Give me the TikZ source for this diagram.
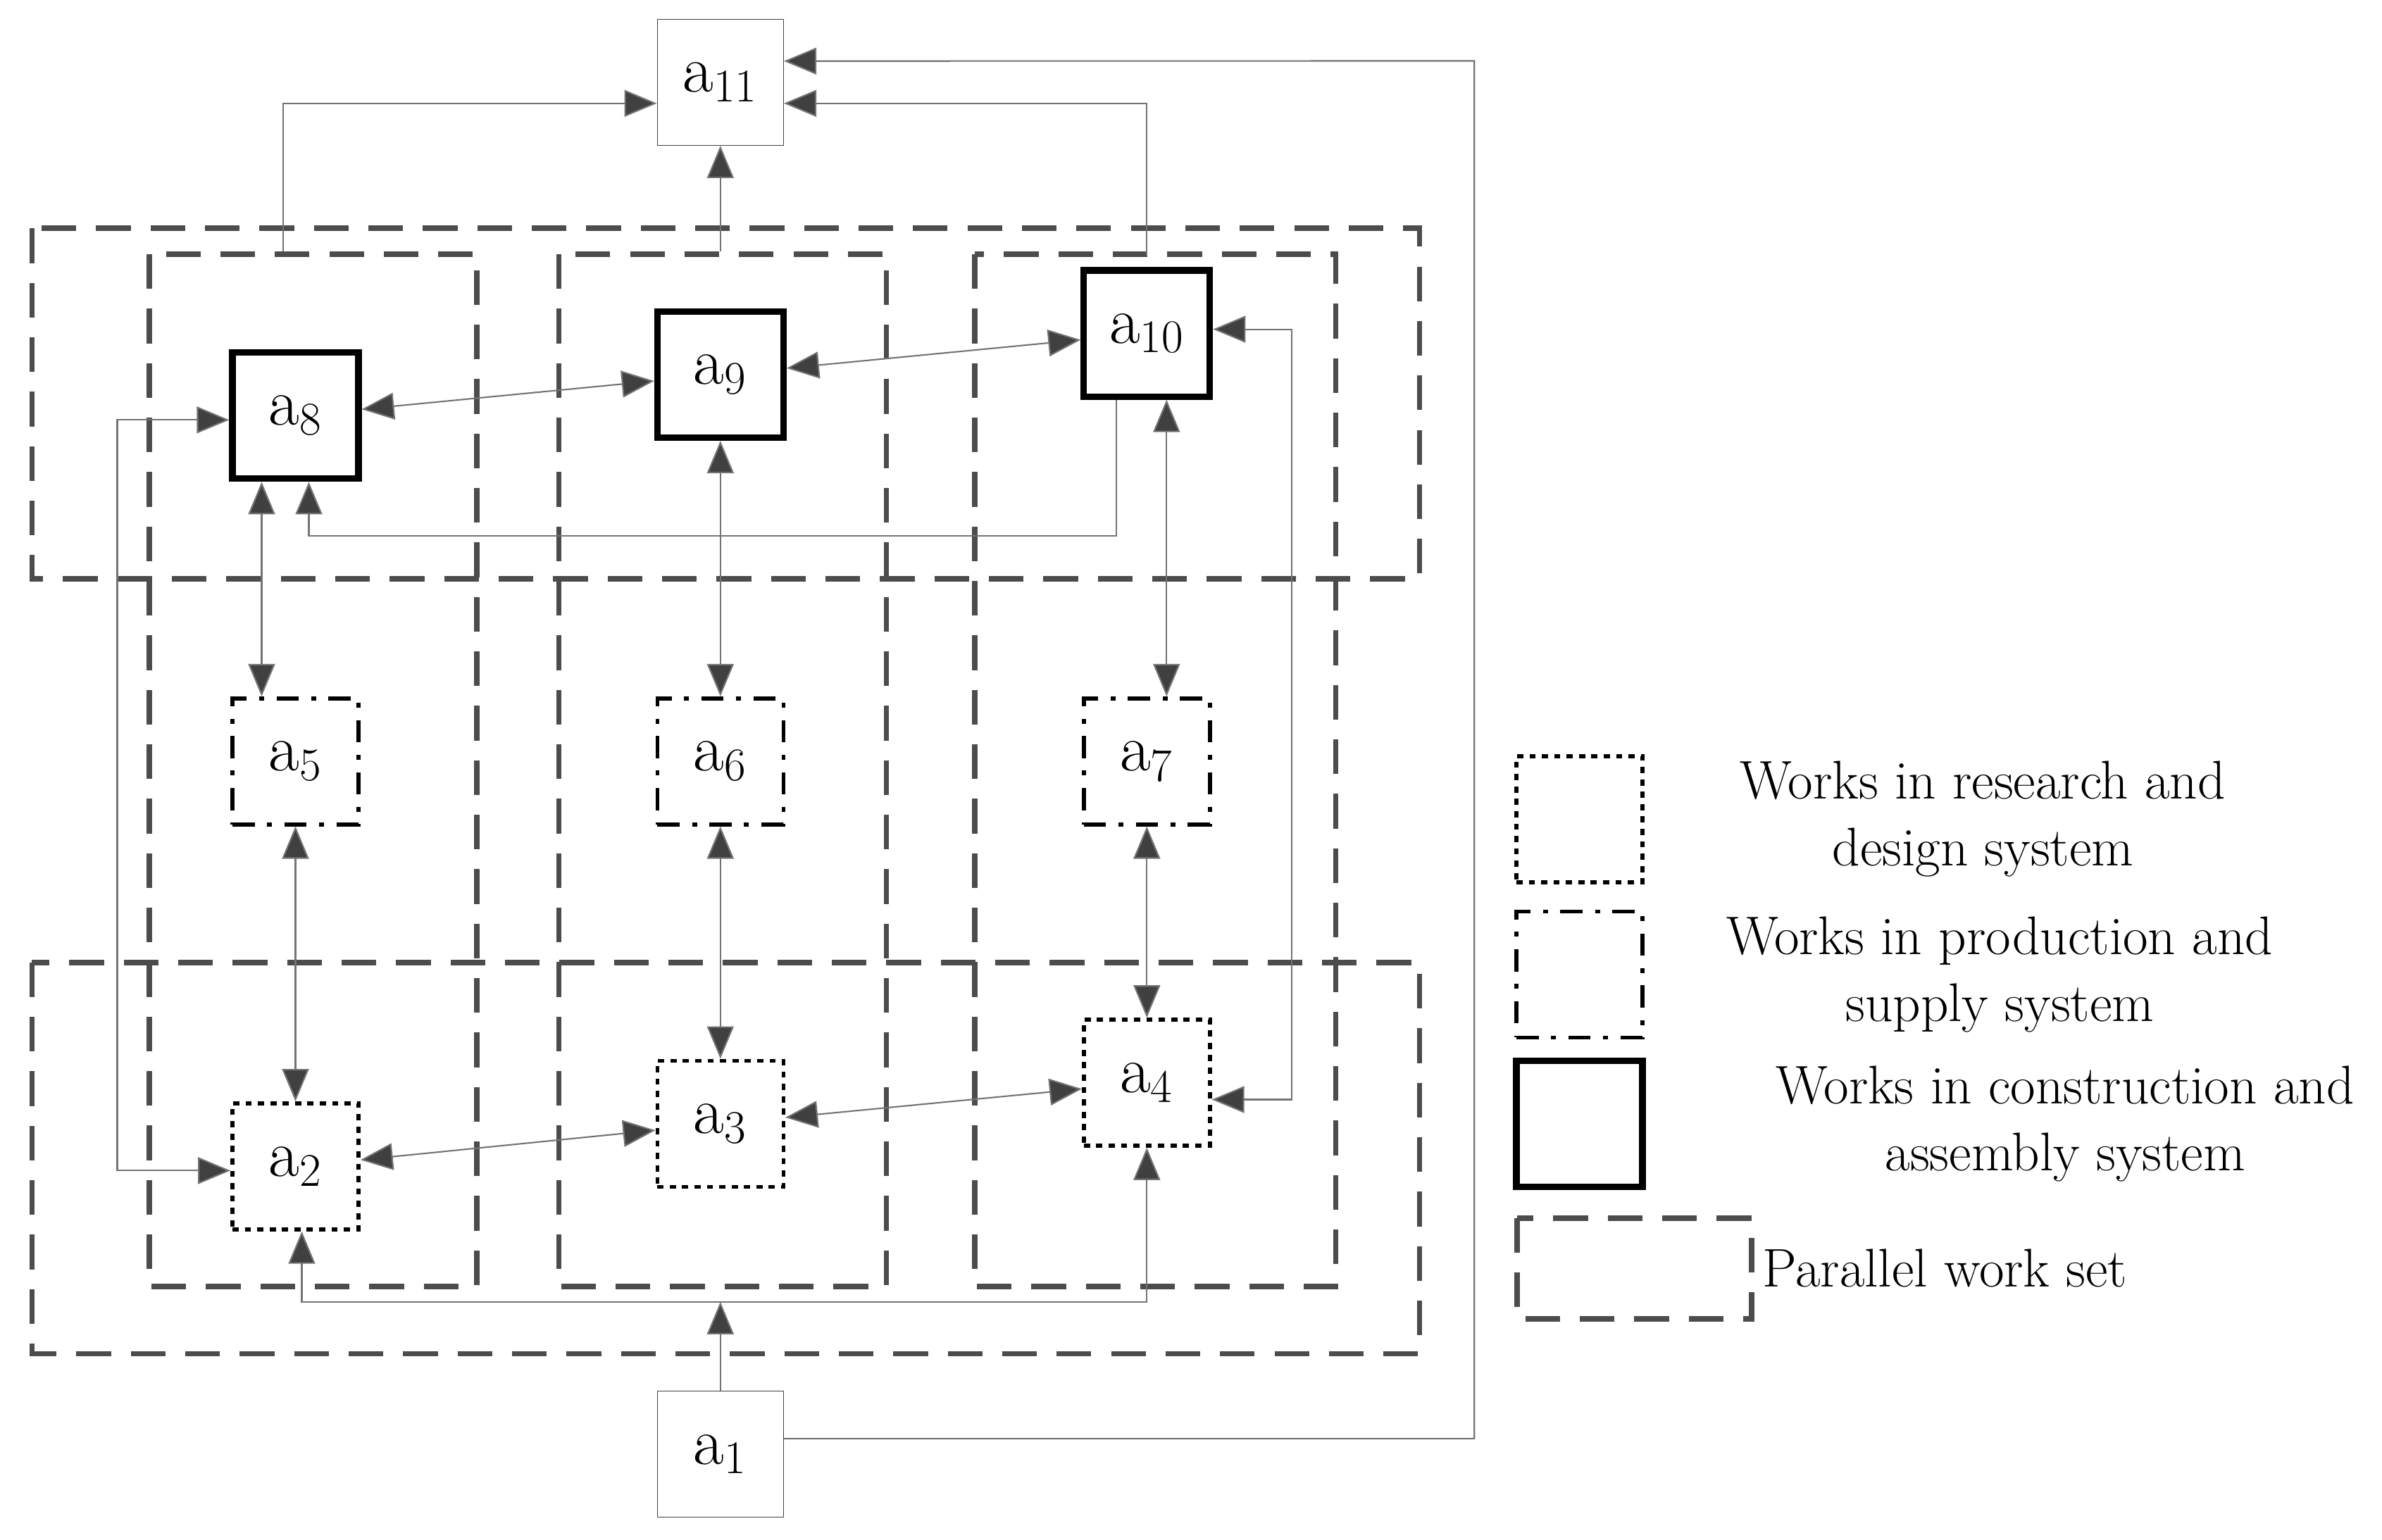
\documentclass[tikz,border=0pt]{standalone}
\usetikzlibrary{arrows.meta,calc}
\begin{document}
\begin{tikzpicture}[x=0.02162cm,y=-0.02162cm,
  font=\fontsize{22}{27}\selectfont,
  box/.style={draw=black!75,minimum size=1.79cm,inner sep=0pt,fill=white,font=\fontsize{27}{30}\selectfont},
  cas/.style={box,line width=2.6pt,draw=black},
  rds/.style={box,line width=1.6pt,draw=black,dash pattern=on 2.5pt off 2.5pt},
  pss/.style={box,line width=1.6pt,draw=black,dash pattern=on 9pt off 5pt on 2pt off 5pt},
  pws/.style={draw=black!70,line width=2.2pt,dash pattern=on 14pt off 8pt},
  ln/.style={draw=black!55,line width=0.6pt},
  tip/.style={-{Triangle[length=0.46cm,width=0.38cm,fill=black!75]}},
  btip/.style={{Triangle[length=0.46cm,width=0.38cm,fill=black!75]}-{Triangle[length=0.46cm,width=0.38cm,fill=black!75]}}]
\useasboundingbox (0,0) rectangle (1564,1011);
% parallel work sets
\draw[pws] (21,150) rectangle (932,380);
\draw[pws] (21,632) rectangle (932,889);
\draw[pws] (98,167) rectangle (313,845);
\draw[pws] (367,167) rectangle (582,845);
\draw[pws] (640,167) rectangle (877,845);
% nodes
\node[box] (a11) at (473,54) {a\textsubscript{11}};
\node[cas] (a8) at (194,273) {a\textsubscript{8}};
\node[cas] (a9) at (473,246) {a\textsubscript{9}};
\node[cas] (a10) at (753,219) {a\textsubscript{10}};
\node[pss] (a5) at (194,500) {a\textsubscript{5}};
\node[pss] (a6) at (473,500) {a\textsubscript{6}};
\node[pss] (a7) at (753,500) {a\textsubscript{7}};
\node[rds] (a2) at (194,766) {a\textsubscript{2}};
\node[rds] (a3) at (473,738) {a\textsubscript{3}};
\node[rds] (a4) at (753,711) {a\textsubscript{4}};
\node[box] (a1) at (473,955) {a\textsubscript{1}};
% coordinates
\coordinate (c8t) at (186,165);
\coordinate (c9t) at (473,165);
\coordinate (c10t) at (753,168);
\coordinate (j) at (473,855);
% connectors
\draw[ln,btip] (a8) -- (a9);
\draw[ln,btip] (a9) -- (a10);
\draw[ln,btip] (a2) -- (a3);
\draw[ln,btip] (a3) -- (a4);
\draw[ln,btip] ([xshift=-0.48cm]a8.south) -- ([xshift=-0.48cm]a5.north);
\draw[ln,btip] (a5) -- (a2);
\draw[ln,btip] (a9) -- (a6);
\draw[ln,btip] (a6) -- (a3);
\draw[ln,btip] ([xshift=0.28cm]a10.south) -- ([xshift=0.28cm]a7.north);
\draw[ln,btip] (a7) -- (a4);
\draw[ln,tip] (c8t) |- ([yshift=-0.3cm]a11.west);
\draw[ln,tip] (c9t) -- (a11);
\draw[ln,tip] (c10t) |- ([yshift=-0.3cm]a11.east);
\draw[ln,tip] ([yshift=0.22cm]a1.east) -| (968,40) -- ([yshift=0.3cm]a11.east);
\draw[ln,tip] (a1) -- (j);
\draw[ln,tip] (j) -| ([xshift=0.09cm]a2.south);
\draw[ln,tip] (j) -| (a4.south);
\draw[ln,tip] ([xshift=-0.43cm]a10.south) |- (473,352) -| ([xshift=0.19cm]a8.south);
\draw[ln,btip] ([yshift=-0.06cm]a8.west) -| (77,500) |- ([yshift=-0.06cm]a2.west);
\draw[ln,btip] ([yshift=0.06cm]a10.east) -| (848,500) |- ([yshift=-0.24cm]a4.east);
% legend
\node[rds] (l1) at (1037,538) {};
\node[pss] (l2) at (1037,640) {};
\node[cas] (l3) at (1037,738) {};
\draw[pws] (996,800) rectangle (1150,866);
\node[align=center] (t1) at (1302,538) {Works in research and\\design system};
\node[align=center] (t2) at (1313,640) {Works in production and\\supply system};
\node[align=center] (t3) at (1356,738) {Works in construction and\\assembly system};
\node[anchor=west,inner sep=0pt] (t4) at (1157,833) {Parallel work set};
\end{tikzpicture}
\end{document}
